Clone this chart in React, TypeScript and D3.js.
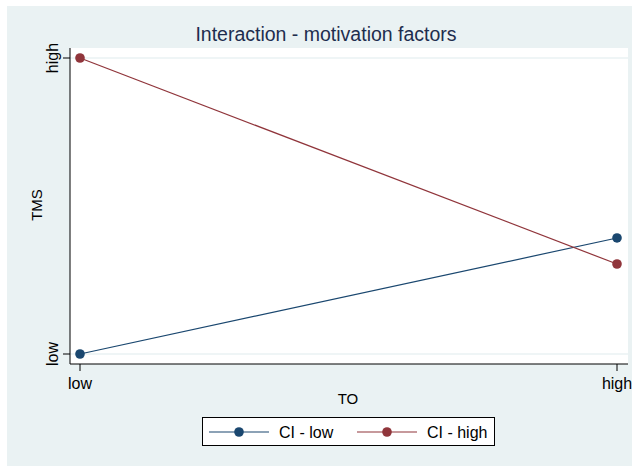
import * as React from "react";
import * as d3 from "d3";

const levels = ["low", "high"];
const seriesNames = ["CI - low", "CI - high"];
const ciLow = [0, 0.392];
const ciHigh = [1, 0.304];
const colors = ["#1a476f", "#90353b"];

const App = () => {
  const width = 632;
  const height = 466;
  const left = 70, right = 628, top = 48, bottom = 364;

  const x = d3.scalePoint().domain(levels).range([80, 617]);
  const y = d3.scaleLinear().domain([0, 1]).range([354, 58]);
  const line = d3.line<number>().x((_, i) => x(levels[i])!).y(d => y(d));
  const series = [ciLow, ciHigh];
  const font = "Liberation Sans, Arial, sans-serif";

  return (
    <svg width={width} height={height} style={{ position: "absolute", left: 0, top: 0 }} fontFamily={font}>
      <rect x={0} y={0} width={width} height={height} fill="#ffffff" />
      <rect x={7} y={6} width={width - 7} height={height - 6} fill="#eaf2f3" />
      <rect x={left} y={top} width={right - left} height={bottom - top} fill="#ffffff" />
      {y.ticks(1).map(t => (
        <line key={t} x1={left} x2={right} y1={y(t)} y2={y(t)} stroke="#eaf2f3" strokeWidth={1.5} />
      ))}
      <line x1={left} x2={left} y1={top} y2={bottom} stroke="#000" />
      <line x1={left} x2={right} y1={bottom} y2={bottom} stroke="#000" />
      {levels.map((l, i) => (
        <g key={l}>
          <line x1={63} x2={left} y1={y(i)} y2={y(i)} stroke="#000" />
          <text transform={`translate(58,${y(i)}) rotate(-90)`} textAnchor="middle" fontSize={16}>{l}</text>
          <line x1={x(l)} x2={x(l)} y1={bottom} y2={371} stroke="#000" />
          <text x={x(l)} y={389} textAnchor="middle" fontSize={16}>{l}</text>
        </g>
      ))}
      <text x={348} y={404} textAnchor="middle" fontSize={15}>TO</text>
      <text transform="translate(42,205) rotate(-90)" textAnchor="middle" fontSize={15}>TMS</text>
      <text x={326} y={41} textAnchor="middle" fontSize={19.5} fill="#1e2d4e">Interaction - motivation factors</text>
      {series.map((s, k) => (
        <g key={k}>
          <path d={line(s) ?? ""} fill="none" stroke={colors[k]} strokeWidth={1.2} />
          {s.map((v, i) => (
            <circle key={i} cx={x(levels[i])} cy={y(v)} r={4.8} fill={colors[k]} />
          ))}
        </g>
      ))}
      <rect x={202.5} y={417.5} width={292} height={28} fill="#ffffff" stroke="#000" />
      {seriesNames.map((n, k) => {
        const lx = 209 + k * 148;
        return (
          <g key={n}>
            <line x1={lx} x2={lx + 60} y1={432} y2={432} stroke={colors[k]} strokeWidth={1.2} />
            <circle cx={lx + 30} cy={432} r={4.8} fill={colors[k]} />
            <text x={lx + 70} y={437.5} fontSize={16}>{n}</text>
          </g>
        );
      })}
    </svg>
  );
};

export default App;
